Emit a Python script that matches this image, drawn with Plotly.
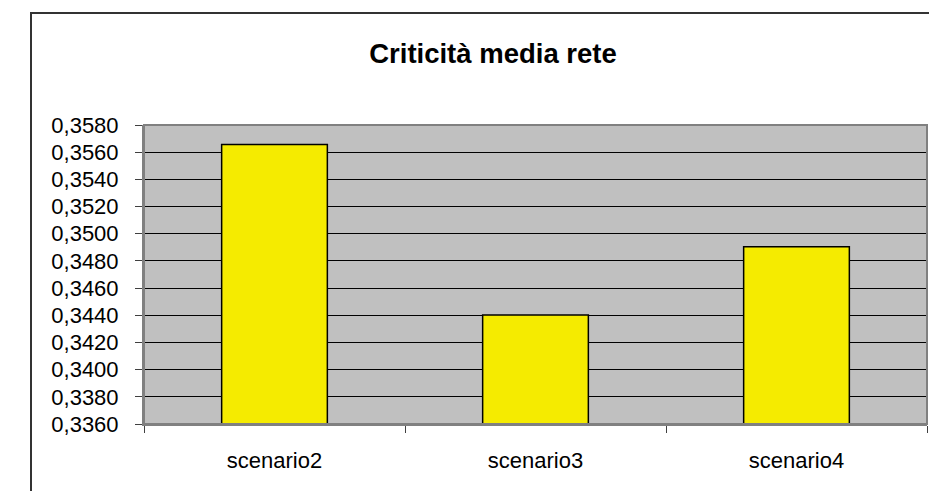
import plotly.graph_objects as go

categories = ["scenario2", "scenario3", "scenario4"]
values = [0.35656, 0.34402, 0.34905]
tick_vals = [0.3360 + 0.0020 * i for i in range(12)]

W, H = 929, 491
L, R, T, B = 144, 2, 125, 67
pw = W - L - R
ph = H - T - B

fig = go.Figure()
fig.add_trace(go.Bar(
    x=categories, y=values,
    marker=dict(color="#F5EB00", line=dict(color="#000000", width=1.5)),
    width=0.405,
))

fig.update_layout(
    width=W, height=H,
    margin=dict(l=L, r=R, t=T, b=B),
    paper_bgcolor="white",
    plot_bgcolor="#C0C0C0",
    separators=",.",
    showlegend=False,
    font=dict(family="Liberation Sans, Arial, sans-serif", color="black"),
    title=dict(
        text="<b>Criticità media rete</b>",
        x=493 / W, xanchor="center",
        y=1 - 53 / H, yanchor="middle",
        font=dict(size=27.5, color="black"),
    ),
    bargap=0.595,
)

fig.update_yaxes(
    range=[0.3360, 0.3580],
    tickvals=tick_vals,
    tickformat=".4f",
    tickfont=dict(size=22),
    ticks="outside", ticklen=7, tickcolor="#404040", tickwidth=1,
    showgrid=True, gridcolor="#000000", gridwidth=1,
    showline=True, linecolor="#808080", linewidth=2,
    mirror=False, zeroline=False,
    ticklabelstandoff=12,
)
fig.update_xaxes(
    tickfont=dict(size=22),
    ticks="outside", ticklen=7, tickcolor="#404040", tickwidth=1,
    tickson="boundaries",
    showgrid=False,
    showline=True, linecolor="#808080", linewidth=2,
    range=[-0.5, 2.5],
    ticklabelstandoff=16,
)

# plot area border (top/right gray)
fig.add_shape(type="rect", xref="paper", yref="paper", x0=0, x1=1, y0=0, y1=1,
              line=dict(color="#808080", width=2), layer="above")

# chart outer border
fig.add_shape(type="rect", xref="paper", yref="paper",
              x0=(31 - L) / pw, x1=1.05, y0=-0.5, y1=1 + (T - 13) / ph,
              line=dict(color="#333333", width=2), layer="below")

fig.write_html(
    "out.html",
    config={"displayModeBar": False},
    post_script="document.body.style.margin='0';document.body.style.overflow='hidden';",
)
